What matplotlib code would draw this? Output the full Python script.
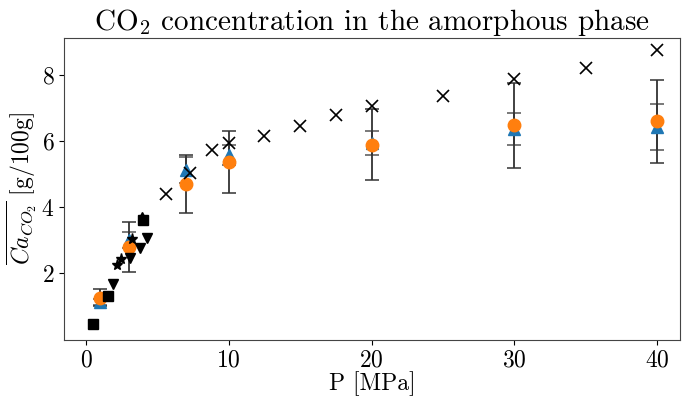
import matplotlib
matplotlib.use("Agg")
import matplotlib.pyplot as plt

plt.rcParams['font.family'] = 'serif'
plt.rcParams['font.serif'] = ['cmr10', 'DejaVu Serif']
plt.rcParams['mathtext.fontset'] = 'cm'
plt.rcParams['axes.formatter.use_mathtext'] = True

# Simulation results (orange circles, outer error bars)
p_sim = [1, 3, 7, 10, 20, 30, 40]
c_orange = [1.26, 2.80, 4.70, 5.37, 5.90, 6.48, 6.61]
err_orange = [0.25, 0.76, 0.88, 0.93, 1.07, 1.30, 1.26]
# blue triangles, inner error bars
c_blue = [1.13, 3.00, 5.12, 5.58, 5.95, 6.38, 6.44]
err_blue = [0.10, 0.25, 0.39, 0.30, 0.37, 0.48, 0.70]

# Black x markers
p_x = [5.6, 7.3, 8.8, 10.0, 12.5, 15.0, 17.5, 20.0, 25.0, 30.0, 35.0, 40.0]
c_x = [4.40, 5.04, 5.73, 5.95, 6.15, 6.46, 6.79, 7.06, 7.36, 7.90, 8.22, 8.76]

# Black squares
p_sq = [0.5, 1.55, 4.0]
c_sq = [0.45, 1.30, 3.60]

# Black up-triangle
p_tu = [3.9]
c_tu = [3.74]

# Black down triangles
p_tv = [1.9, 3.05, 3.8, 4.3]
c_tv = [1.66, 2.45, 2.75, 3.08]

# Black stars
p_st = [2.2, 2.45, 3.2]
c_st = [2.24, 2.44, 3.05]

fig = plt.figure(figsize=(6.88, 3.97), dpi=100)
ax = fig.add_axes([0.093, 0.144, 0.895, 0.760])

ax.errorbar(p_sim, c_blue, yerr=err_blue, fmt='none', ecolor='#555555',
            elinewidth=1.3, capsize=5, capthick=1.1, zorder=2)
ax.errorbar(p_sim, c_orange, yerr=err_orange, fmt='none', ecolor='#333333',
            elinewidth=1.3, capsize=5, capthick=1.1, zorder=2)
ax.plot(p_sim, c_blue, '^', color='#1f77b4', markersize=9, linestyle='none', zorder=3)
ax.plot(p_sim, c_orange, 'o', color='#ff7f0e', markersize=9, linestyle='none', zorder=4)

ax.plot(p_sq, c_sq, 's', color='black', markersize=7, linestyle='none', zorder=5)
ax.plot(p_tu, c_tu, '^', color='black', markersize=6, linestyle='none', zorder=5)
ax.plot(p_tv, c_tv, 'v', color='black', markersize=7, linestyle='none', zorder=5)
ax.plot(p_st, c_st, '*', color='black', markersize=8, linestyle='none', zorder=5)
ax.plot(p_x, c_x, 'x', color='black', markersize=8, markeredgewidth=1.2,
        linestyle='none', zorder=6)

ax.set_xlim(-1.55, 41.6)
ax.set_ylim(-0.02, 9.13)
ax.set_xticks([0, 10, 20, 30, 40])
ax.set_yticks([2, 4, 6, 8])
ax.tick_params(labelsize=17)
for s in ax.spines.values():
    s.set_color('#444444')

ax.set_xlabel('P [MPa]', fontsize=17, labelpad=0)
ax.set_ylabel(r'$\overline{Ca_{CO_2}}$ [g/100g]', fontsize=17, labelpad=2)
ax.set_title(r'CO$_2$ concentration in the amorphous phase', fontsize=21, pad=4)

fig.savefig('out.png', dpi=100)
